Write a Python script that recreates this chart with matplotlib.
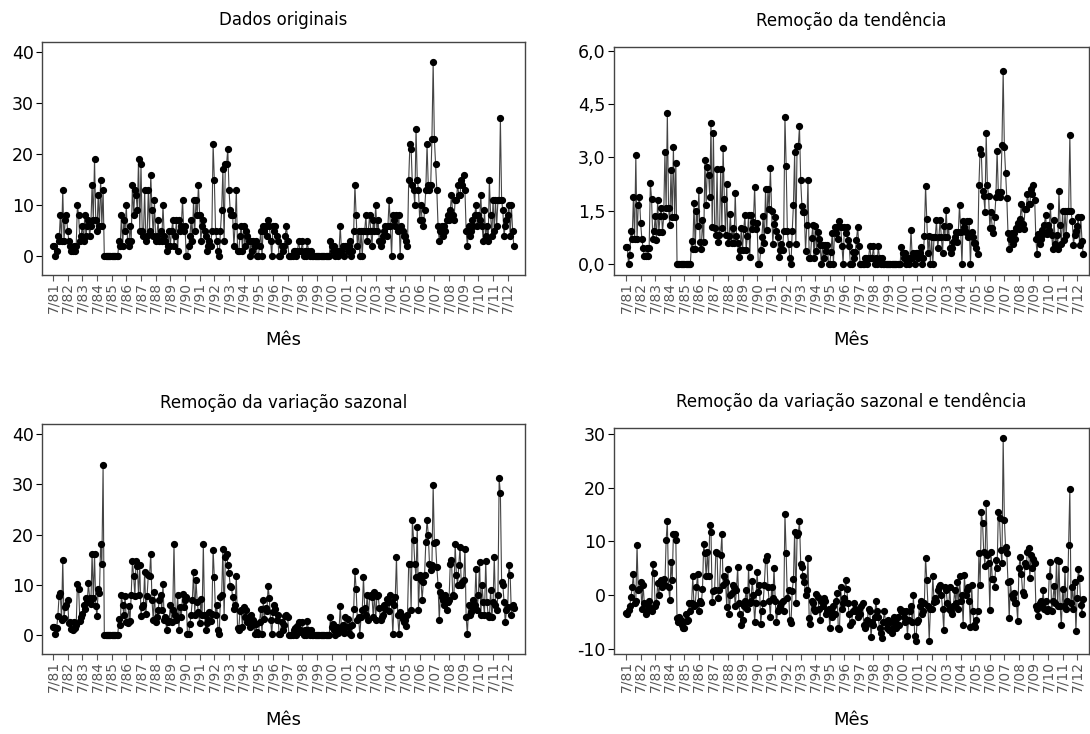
import matplotlib
matplotlib.use('Agg')
import matplotlib.pyplot as plt
import numpy as np
from matplotlib.ticker import FixedLocator, FuncFormatter

plt.rcParams['font.family'] = ['DejaVu Sans']
plt.rcParams['axes.unicode_minus'] = False

# rotulos do eixo x (um por ano, sempre julho)
rotulos_meses = ['7/81', '7/82', '7/83', '7/84', '7/85', '7/86', '7/87', '7/88',
                 '7/89', '7/90', '7/91', '7/92', '7/93', '7/94', '7/95', '7/96',
                 '7/97', '7/98', '7/99', '7/00', '7/01', '7/02', '7/03', '7/04',
                 '7/05', '7/06', '7/07', '7/08', '7/09', '7/10', '7/11', '7/12']

# serie mensal de 7/81 a 12/12
dados_originais = [
    2, 2, 0, 1, 4, 3, 8, 3, 13, 3, 7, 8,
    5, 3, 2, 1, 1, 2, 1, 2, 10, 8, 3, 4,
    6, 3, 8, 4, 6, 7, 4, 6, 14, 7, 19, 7,
    5, 12, 6, 15, 6, 13, 0, 0, 0, 0, 0, 0,
    0, 0, 0, 0, 0, 0, 3, 2, 8, 2, 7, 5,
    10, 3, 2, 6, 3, 14, 8, 13, 12, 9, 19, 5,
    18, 5, 4, 13, 3, 4, 13, 5, 16, 9, 4, 11,
    3, 4, 7, 3, 5, 3, 10, 4, 3, 1, 2, 5,
    2, 5, 7, 2, 4, 7, 1, 7, 5, 6, 11, 5,
    6, 0, 0, 2, 4, 7, 3, 11, 5, 11, 8, 14,
    8, 3, 6, 7, 5, 4, 1, 2, 3, 2, 5, 22,
    15, 5, 3, 1, 0, 5, 9, 17, 3, 18, 18, 21,
    13, 9, 8, 8, 2, 6, 13, 1, 1, 4, 6, 1,
    6, 2, 5, 4, 3, 0, 3, 1, 3, 2, 3, 0,
    0, 2, 5, 0, 6, 5, 6, 4, 7, 6, 3, 0,
    6, 5, 6, 4, 3, 0, 0, 2, 1, 2, 4, 6,
    3, 0, 0, 0, 0, 1, 1, 0, 1, 3, 1, 1,
    3, 0, 1, 0, 3, 1, 0, 1, 0, 0, 0, 0,
    0, 0, 0, 0, 0, 0, 0, 0, 0, 0, 0, 3,
    2, 1, 2, 0, 1, 0, 1, 6, 1, 2, 0, 2,
    2, 1, 2, 3, 0, 1, 5, 14, 8, 2, 5, 0,
    5, 0, 5, 5, 8, 3, 5, 8, 5, 2, 7, 5,
    10, 5, 7, 3, 2, 3, 4, 5, 6, 4, 6, 11,
    6, 0, 8, 7, 6, 8, 5, 8, 0, 6, 5, 4,
    4, 3, 2, 15, 22, 21, 14, 13, 10, 25, 15, 13,
    7, 10, 7, 6, 9, 13, 22, 14, 13, 14, 23, 38,
    23, 18, 13, 6, 3, 5, 6, 4, 6, 5, 7, 8,
    7, 9, 12, 8, 7, 11, 11, 14, 12, 12, 15, 14,
    16, 13, 5, 2, 6, 4, 5, 7, 6, 8, 10, 6,
    8, 7, 12, 6, 3, 9, 4, 6, 3, 15, 8, 4,
    11, 5, 11, 6, 11, 11, 27, 11, 9, 4, 6, 7,
    8, 10, 4, 10, 5, 2]

sem_tendencia = [
    0.47, 0.47, 0, 0.24, 0.94, 0.71, 1.88, 0.71, 3.06, 0.71, 1.65, 1.88,
    1.15, 0.69, 0.46, 0.23, 0.23, 0.46, 0.23, 0.46, 2.29, 1.83, 0.69, 0.92,
    1.34, 0.67, 1.79, 0.90, 1.34, 1.57, 0.90, 1.34, 3.14, 1.57, 4.26, 1.57,
    1.10, 2.63, 1.31, 3.29, 1.31, 2.85, 0, 0, 0, 0, 0, 0,
    0, 0, 0, 0, 0, 0, 0.64, 0.43, 1.71, 0.43, 1.50, 1.07,
    2.09, 0.63, 0.42, 1.25, 0.63, 2.93, 1.67, 2.72, 2.51, 1.88, 3.97, 1.05,
    3.68, 1.02, 0.82, 2.66, 0.61, 0.82, 2.66, 1.02, 3.27, 1.84, 0.82, 2.25,
    0.6, 0.8, 1.4, 0.6, 1.0, 0.6, 2.0, 0.8, 0.6, 0.2, 0.4, 1.0,
    0.39, 0.98, 1.37, 0.39, 0.78, 1.37, 0.20, 1.37, 0.98, 1.18, 2.16, 0.98,
    1.15, 0, 0, 0.38, 0.77, 1.34, 0.58, 2.11, 0.96, 2.11, 1.54, 2.69,
    1.50, 0.56, 1.13, 1.32, 0.94, 0.75, 0.19, 0.38, 0.56, 0.38, 0.94, 4.14,
    2.77, 0.92, 0.55, 0.18, 0, 0.92, 1.66, 3.14, 0.55, 3.32, 3.32, 3.87,
    2.35, 1.63, 1.45, 1.45, 0.36, 1.09, 2.35, 0.18, 0.18, 0.72, 1.09, 0.18,
    1.07, 0.36, 0.89, 0.71, 0.53, 0, 0.53, 0.18, 0.53, 0.36, 0.53, 0,
    0, 0.35, 0.87, 0, 1.05, 0.87, 1.05, 0.70, 1.22, 1.05, 0.52, 0,
    1.03, 0.86, 1.03, 0.68, 0.51, 0, 0, 0.34, 0.17, 0.34, 0.68, 1.03,
    0.50, 0, 0, 0, 0, 0.17, 0.17, 0, 0.17, 0.50, 0.17, 0.17,
    0.50, 0, 0.17, 0, 0.50, 0.17, 0, 0.17, 0, 0, 0, 0,
    0, 0, 0, 0, 0, 0, 0, 0, 0, 0, 0, 0.49,
    0.32, 0.16, 0.32, 0, 0.16, 0, 0.16, 0.96, 0.16, 0.32, 0, 0.32,
    0.31, 0.16, 0.31, 0.47, 0, 0.16, 0.79, 2.20, 1.26, 0.31, 0.79, 0,
    0.77, 0, 0.77, 0.77, 1.23, 0.46, 0.77, 1.23, 0.77, 0.31, 1.08, 0.77,
    1.52, 0.76, 1.06, 0.46, 0.30, 0.46, 0.61, 0.76, 0.91, 0.61, 0.91, 1.67,
    0.90, 0, 1.20, 1.05, 0.90, 1.20, 0.75, 1.20, 0, 0.90, 0.75, 0.60,
    0.59, 0.44, 0.29, 2.21, 3.23, 3.09, 2.06, 1.91, 1.47, 3.68, 2.21, 1.91,
    1.02, 1.45, 1.02, 0.87, 1.31, 1.89, 3.19, 2.03, 1.89, 2.03, 3.34, 5.42,
    3.28, 2.57, 1.86, 0.86, 0.43, 0.71, 0.86, 0.57, 0.86, 0.71, 1.00, 1.14,
    0.98, 1.27, 1.69, 1.12, 0.98, 1.55, 1.55, 1.97, 1.69, 1.69, 2.11, 1.97,
    2.22, 1.80, 0.69, 0.28, 0.83, 0.55, 0.69, 0.97, 0.83, 1.11, 1.39, 0.83,
    1.09, 0.96, 1.64, 0.82, 0.41, 1.23, 0.55, 0.82, 0.41, 2.05, 1.09, 0.55,
    1.48, 0.67, 1.48, 0.81, 1.48, 1.48, 3.63, 1.48, 1.21, 0.54, 0.81, 0.94,
    1.06, 1.33, 0.53, 1.33, 0.66, 0.27]

sem_sazonal = [
    1.6, 1.6, 0.2, 1.3, 3.8, 7.8, 8.3, 3.0, 15.0, 3.3, 5.5, 6.0,
    7.0, 2.3, 2.5, 1.2, 1.0, 2.5, 1.3, 2.0, 10.2, 9.2, 2.8, 3.5,
    4.2, 6.0, 5.2, 7.3, 6.5, 10.3, 7.3, 6.2, 16.2, 7.3, 16.2, 5.8,
    3.8, 9.2, 8.3, 18.2, 14.2, 33.8, 0, 0, 0, 0, 0, 0,
    0, 0, 0, 0, 0, 0, 3.2, 2.0, 8.0, 6.0, 4.0, 7.8,
    2.5, 2.3, 5.8, 2.8, 8.0, 14.7, 11.7, 7.8, 14.8, 13.8, 7.9, 14.0,
    3.8, 5.5, 6.0, 12.5, 4.2, 7.8, 12.0, 11.7, 16.2, 7.0, 3.0, 8.5,
    2.5, 3.5, 5.0, 7.0, 8.0, 5.0, 10.2, 3.0, 3.5, 1.0, 2.5, 2.8,
    6.0, 2.5, 5.0, 18.2, 4.0, 3.0, 8.0, 1.0, 5.5, 3.5, 8.2, 5.5,
    7.0, 7.5, 0.2, 0.2, 2.2, 4.0, 7.0, 12.5, 4.0, 11.0, 6.5, 4.5,
    2.3, 7.2, 4.0, 18.2, 4.0, 1.0, 2.3, 3.0, 4.5, 2.8, 4.2, 17.0,
    11.5, 4.0, 6.0, 1.0, 0.1, 7.5, 8.0, 17.2, 3.5, 15.5, 16.2, 14.0,
    12.3, 9.8, 9.5, 7.5, 5.2, 6.0, 11.7, 1.3, 1.0, 4.8, 5.0, 1.5,
    5.5, 3.5, 5.0, 2.5, 3.5, 1.5, 4.0, 2.0, 3.0, 0.2, 2.2, 0.5,
    0.1, 2.5, 5.2, 0.2, 7.0, 3.2, 5.3, 4.8, 9.7, 7.3, 3.0, 0.1,
    4.5, 6.0, 5.2, 3.0, 4.0, 0.1, 0.1, 2.5, 1.0, 2.0, 3.8, 4.0,
    3.5, 0, 0, 0, 0, 1.0, 1.3, 0, 1.8, 2.5, 1.0, 0.5,
    2.6, 0, 1.0, 0, 2.8, 1.0, 0, 1.0, 0, 0, 0, 0,
    0, 0, 0, 0, 0, 0, 0, 0, 0, 0, 0, 3.5,
    1.5, 2.2, 1.0, 0, 1.5, 0.3, 1.0, 5.8, 1.0, 2.0, 0.3, 3.5,
    1.5, 3.2, 0.3, 1.7, 0, 2.0, 5.2, 12.8, 9.2, 3.0, 3.5, 0,
    3.5, 5.0, 11.5, 5.3, 4.0, 8.0, 3.0, 7.8, 8.0, 7.5, 3.5, 8.5,
    3.0, 7.8, 8.0, 5.3, 3.0, 3.5, 4.0, 6.0, 5.2, 7.2, 6.5, 4.8,
    8.0, 6.5, 0.1, 6.0, 7.5, 15.5, 4.0, 0.1, 4.5, 4.0, 3.2, 2.5,
    3.0, 1.8, 4.0, 14.2, 14.2, 5.0, 23.0, 19.0, 14.2, 11.5, 21.5, 5.0,
    12.0, 11.0, 7.0, 10.5, 12.0, 18.5, 23.0, 20.0, 14.2, 13.0, 14.0, 29.8,
    18.3, 18.5, 13.5, 10.0, 3.0, 8.5, 7.5, 7.0, 6.0, 8.0, 5.0, 6.5,
    7.0, 14.2, 15.0, 8.0, 7.8, 18.2, 12.0, 10.0, 14.0, 17.5, 10.0, 10.5,
    11.0, 17.2, 3.5, 0.1, 6.0, 4.0, 4.5, 5.5, 7.0, 6.0, 13.2, 5.0,
    8.0, 14.5, 4.0, 10.0, 6.5, 4.0, 14.8, 6.5, 4.0, 3.5, 9.0, 3.5,
    6.5, 15.5, 6.0, 5.0, 8.0, 31.2, 28.2, 10.5, 10.0, 6.5, 2.5, 5.0,
    5.5, 14.0, 12.0, 4.0, 6.0, 5.3]

sem_sazonal_tendencia = [
    -3.3, -3.5, -2.8, -2.0, -0.3, 1.5, 4.0, -1.5, -1.0, 9.3, 1.0, 1.2,
    2.5, -2.5, 2.0, -1.5, -3.5, -3.0, -2.0, -1.0, -2.5, -3.0, 5.8, 4.2,
    -2.0, -1.5, 2.3, 0.0, 2.5, 2.8, 1.5, 3.0, 2.0, 10.2, 13.9, 1.5,
    -0.8, 6.2, 2.8, 11.3, 11.3, 10.3, -4.3, -5.0, -4.0, -4.5, -5.5, -6.0,
    -6.0, -3.5, -4.8, -4.5, -1.5, -3.0, -1.5, 3.5, -2.0, -1.8, 1.5, 4.0,
    -3.0, -1.0, -1.5, 1.2, 9.5, 7.8, 3.5, 8.0, 3.5, 13.0, 11.8, -1.3,
    0.8, 1.0, 8.0, 7.8, -0.5, 1.0, 7.5, 11.3, 2.0, 3.5, 2.5, -2.2,
    4.8, -3.5, 0.0, 0.5, 2.0, 1.5, -2.0, 1.0, 5.2, -1.5, -3.5, -5.5,
    -4.5, -2.0, -1.0, 1.0, -2.5, 5.2, -1.5, -1.0, 2.7, 0.0, -5.0, -1.5,
    4.3, 0.7, 2.0, -5.3, -3.0, -1.5, 2.0, 6.5, 7.3, 1.5, -1.0, -4.0,
    1.5, -0.5, 5.1, -1.0, -5.0, -3.0, -2.5, -2.0, -1.5, -1.0, -3.0, 15.2,
    7.9, -0.5, 1.0, -4.5, -5.2, 0.8, 3.0, 11.8, -1.5, 11.2, 11.5, 13.9,
    5.9, 5.2, 3.5, 2.5, 0.0, 1.0, 7.0, -4.3, -5.3, -1.0, -1.5, -2.5,
    -3.0, 0.2, -0.3, -2.5, -4.5, -1.0, -2.0, -0.5, -1.0, -3.5, -3.0, -2.5,
    -6.0, -3.0, -4.0, -2.0, -3.5, -1.0, 0.5, -6.0, -6.2, 1.5, -2.5, -1.5,
    -0.5, 2.8, 1.2, -1.5, -3.5, -5.5, -5.0, -3.0, -1.5, -2.5, -3.0, -4.0,
    -2.5, -3.5, -2.0, -1.5, -5.6, -6.0, -5.5, -4.5, -2.5, -3.0, -7.8, -5.0,
    -5.5, -4.0, -1.1, -3.0, -4.0, -6.0, -7.0, -8.0, -5.0, -3.0, -5.0, -6.0,
    -4.5, -6.5, -5.0, -7.0, -6.0, -4.0, -5.0, -6.0, -4.0, -5.5, -2.5, -3.0,
    -3.0, -4.0, -5.0, -3.0, -7.5, -4.5, -3.0, -2.0, -5.0, 0.0, -7.5, -8.4,
    -5.0, -4.5, -2.0, -1.0, -3.5, -3.0, -1.5, 7.0, 2.9, -2.0, -8.4, -2.5,
    -2.5, 3.6, -1.3, -0.5, -1.0, 1.0, 1.5, 2.0, 0.0, -2.5, -6.5, 1.5,
    1.0, -1.5, -2.5, 1.5, -3.0, -3.5, -2.0, 1.0, -1.5, 2.5, -2.5, 3.5,
    -1.0, 0.0, -5.5, 3.8, 0.0, 1.0, 1.5, -1.0, -5.8, 2.0, -3.0, -5.5,
    -5.8, -4.5, -3.0, 7.8, 2.0, 15.5, 13.5, 8.0, 5.5, 17.2, 7.5, 6.0,
    -2.8, 8.0, 3.0, 3.0, 1.5, 6.5, 5.0, 15.4, 14.4, 8.5, 6.0, 29.2,
    14.0, 8.9, 7.9, 2.4, -4.3, 2.6, 0.0, -0.5, 0.5, -1.5, -1.5, -4.7,
    5.0, 7.2, 4.0, 0.7, 0.0, 6.0, 5.5, 8.0, 8.7, 3.3, 7.5, 5.0,
    6.7, 6.0, -2.0, -2.5, -3.8, -1.5, -1.0, -2.0, 0.9, -2.5, -1.0, -3.0,
    -2.5, 3.6, 6.1, -3.0, -1.0, 1.8, -1.5, 6.6, -2.0, 6.4, -2.0, -5.6,
    1.2, -2.0, 4.9, -2.5, -1.0, 9.3, 19.8, -1.5, 1.5, -2.5, 2.5, -6.7,
    -0.5, 4.9, 3.3, -1.8, -3.5, -0.7]

titulos = ['Dados originais', 'Remoção da tendência',
           'Remoção da variação sazonal', 'Remoção da variação sazonal e tendência']
series = [dados_originais, sem_tendencia, sem_sazonal, sem_sazonal_tendencia]
yticks = [[0, 10, 20, 30, 40], [0.0, 1.5, 3.0, 4.5, 6.0],
          [0, 10, 20, 30, 40], [-10, 0, 10, 20, 30]]
ylims = [(-3.7, 42), (-0.31, 6.11), (-3.8, 42), (-10.9, 31.1)]
posicoes = [[0.0385, 0.6253, 0.443, 0.3175], [0.5633, 0.6253, 0.436, 0.311],
            [0.0385, 0.109, 0.443, 0.313], [0.5633, 0.109, 0.436, 0.308]]
xlims = [(-9, 386), (-10, 382), (-9, 386), (-10, 382)]
# altura (fracao da figura) do titulo e do rotulo "Mês" de cada linha
y_titulo = [0.973, 0.972, 0.451, 0.452]
y_mes = [0.537, 0.537, 0.019, 0.019]

fig = plt.figure(figsize=(10.9, 7.34), dpi=100)

for k in range(4):
    ax = fig.add_axes(posicoes[k])
    y = series[k]
    x = np.arange(len(y))
    ax.plot(x, y, color='#444444', lw=0.8, marker='o', ms=4.2,
            mfc='black', mec='black')
    ax.set_xlim(*xlims[k])
    ax.set_ylim(*ylims[k])
    ax.xaxis.set_major_locator(FixedLocator(np.arange(len(rotulos_meses)) * 12))
    ax.set_xticklabels(rotulos_meses, rotation=90, fontsize=10, color='#555555')
    ax.set_yticks(yticks[k])
    if k == 1:
        ax.yaxis.set_major_formatter(FuncFormatter(lambda v, p: f'{v:.1f}'.replace('.', ',')))
    else:
        ax.yaxis.set_major_formatter(FuncFormatter(lambda v, p: f'{v:.0f}'))
    ax.tick_params(axis='y', labelsize=12.5, length=4, width=0.8, pad=2)
    ax.tick_params(axis='x', length=4, width=0.8, pad=1, color='#555555')
    for s in ax.spines.values():
        s.set_color('#444444')
        s.set_linewidth(1.0)
    xc = posicoes[k][0] + posicoes[k][2] / 2
    fig.text(xc, y_titulo[k], titulos[k], fontsize=12, ha='center', va='center')
    fig.text(xc, y_mes[k], 'Mês', fontsize=13, ha='center', va='center')

fig.savefig('out.png', dpi=100)
